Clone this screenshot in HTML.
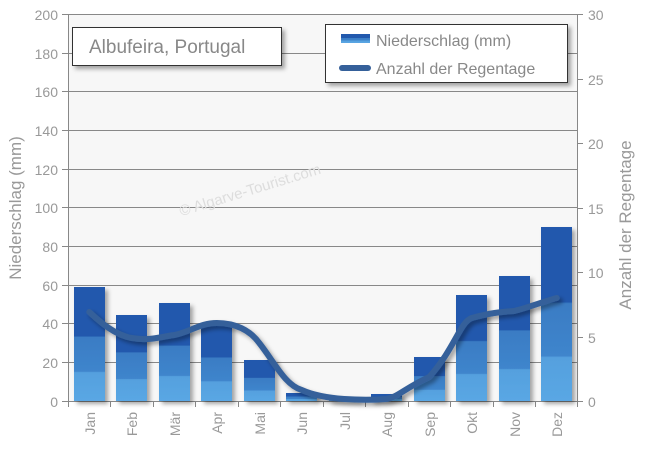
<!DOCTYPE html>
<html><head><style>
body{margin:0;background:#fff;}
svg{display:block;font-family:"Liberation Sans",sans-serif;}
</style></head><body>
<svg width="650" height="450" viewBox="0 0 650 450">
<defs>
<linearGradient id="bg" x1="0" y1="0" x2="0" y2="1">
<stop offset="0" stop-color="#2259ad"/><stop offset="0.43" stop-color="#2259ad"/>
<stop offset="0.44" stop-color="#3a7cc4"/><stop offset="0.74" stop-color="#3f85cc"/>
<stop offset="0.75" stop-color="#55a0de"/><stop offset="1" stop-color="#5aa7e4"/>
</linearGradient>
<filter id="sh" x="-20%" y="-20%" width="150%" height="150%"><feDropShadow dx="3" dy="3" stdDeviation="2" flood-color="#000" flood-opacity="0.35"/></filter>
</defs>
<rect x="68" y="14" width="510" height="387" fill="#f7f7f7"/>
<g stroke="#888" stroke-width="1">
<line x1="68" y1="14.5" x2="578" y2="14.5"/>
<line x1="68" y1="53.5" x2="578" y2="53.5"/>
<line x1="68" y1="91.5" x2="578" y2="91.5"/>
<line x1="68" y1="130.5" x2="578" y2="130.5"/>
<line x1="68" y1="169.5" x2="578" y2="169.5"/>
<line x1="68" y1="207.5" x2="578" y2="207.5"/>
<line x1="68" y1="246.5" x2="578" y2="246.5"/>
<line x1="68" y1="285.5" x2="578" y2="285.5"/>
<line x1="68" y1="323.5" x2="578" y2="323.5"/>
<line x1="68" y1="362.5" x2="578" y2="362.5"/>
<line x1="62" y1="401.5" x2="583" y2="401.5"/>
<line x1="68.5" y1="14" x2="68.5" y2="401"/>
<line x1="577.5" y1="14" x2="577.5" y2="407"/>
<line x1="62" y1="14.5" x2="68" y2="14.5"/><line x1="62" y1="53.5" x2="68" y2="53.5"/><line x1="62" y1="91.5" x2="68" y2="91.5"/><line x1="62" y1="130.5" x2="68" y2="130.5"/><line x1="62" y1="169.5" x2="68" y2="169.5"/><line x1="62" y1="207.5" x2="68" y2="207.5"/><line x1="62" y1="246.5" x2="68" y2="246.5"/><line x1="62" y1="285.5" x2="68" y2="285.5"/><line x1="62" y1="323.5" x2="68" y2="323.5"/><line x1="62" y1="362.5" x2="68" y2="362.5"/>
<line x1="578" y1="14.5" x2="583" y2="14.5"/><line x1="578" y1="79.5" x2="583" y2="79.5"/><line x1="578" y1="143.5" x2="583" y2="143.5"/><line x1="578" y1="208.5" x2="583" y2="208.5"/><line x1="578" y1="272.5" x2="583" y2="272.5"/><line x1="578" y1="337.5" x2="583" y2="337.5"/>
<line x1="68.5" y1="401" x2="68.5" y2="407"/><line x1="110.5" y1="401" x2="110.5" y2="407"/><line x1="153.5" y1="401" x2="153.5" y2="407"/><line x1="195.5" y1="401" x2="195.5" y2="407"/><line x1="238.5" y1="401" x2="238.5" y2="407"/><line x1="280.5" y1="401" x2="280.5" y2="407"/><line x1="323.5" y1="401" x2="323.5" y2="407"/><line x1="365.5" y1="401" x2="365.5" y2="407"/><line x1="408.5" y1="401" x2="408.5" y2="407"/><line x1="450.5" y1="401" x2="450.5" y2="407"/><line x1="493.5" y1="401" x2="493.5" y2="407"/><line x1="535.5" y1="401" x2="535.5" y2="407"/>
</g>
<text x="250" y="195" fill="#ddd" font-size="15" transform="rotate(-17 250 190)" text-anchor="middle">© Algarve-Tourist.com</text>
<g fill="url(#bg)" filter="url(#sh)">
<rect x="74" y="287" width="31" height="114"/>
<rect x="116" y="315" width="31" height="86"/>
<rect x="159" y="303" width="31" height="98"/>
<rect x="201" y="324" width="31" height="77"/>
<rect x="244" y="360" width="31" height="41"/>
<rect x="286" y="393" width="31" height="8"/>
<rect x="329" y="398" width="31" height="3"/>
<rect x="371" y="394" width="31" height="7"/>
<rect x="414" y="357" width="31" height="44"/>
<rect x="456" y="295" width="31" height="106"/>
<rect x="499" y="276" width="31" height="125"/>
<rect x="541" y="227" width="31" height="174"/>
</g>
<path filter="url(#sh)" d="M89.25,312 C96,318 113,335 131.75,338 C150,341 160,337 174.25,335 C190,332 200,323 216.75,323 C235,323 250,330 259.25,343 C275,363 285,385 301.75,390 C315,396 330,398 344.25,399 C360,400 372,400 386.75,399 C398,397 405,388 429.25,377 C455,348 460,322 471.75,318 C490,313 500,312 514.25,311 C530,307 545,301 556.75,298" fill="none" stroke="#35609a" stroke-width="6" stroke-linecap="round"/>
<g fill="#999" font-size="14" text-anchor="end">
<text x="58" y="20">200</text><text x="58" y="59">180</text><text x="58" y="97">160</text><text x="58" y="136">140</text><text x="58" y="175">120</text><text x="58" y="213">100</text><text x="58" y="252">80</text><text x="58" y="291">60</text><text x="58" y="329">40</text><text x="58" y="368">20</text><text x="58" y="407">0</text>
</g>
<g fill="#999" font-size="14">
<text x="588" y="20">30</text><text x="588" y="85">25</text><text x="588" y="149">20</text><text x="588" y="214">15</text><text x="588" y="278">10</text><text x="588" y="343">5</text><text x="588" y="407">0</text>
</g>
<g fill="#999" font-size="14" text-anchor="end">
<text transform="translate(95,412) rotate(-90)">Jan</text>
<text transform="translate(137,412) rotate(-90)">Feb</text>
<text transform="translate(180,412) rotate(-90)">Mär</text>
<text transform="translate(222,412) rotate(-90)">Apr</text>
<text transform="translate(265,412) rotate(-90)">Mai</text>
<text transform="translate(307,412) rotate(-90)">Jun</text>
<text transform="translate(350,412) rotate(-90)">Jul</text>
<text transform="translate(392,412) rotate(-90)">Aug</text>
<text transform="translate(435,412) rotate(-90)">Sep</text>
<text transform="translate(477,412) rotate(-90)">Okt</text>
<text transform="translate(520,412) rotate(-90)">Nov</text>
<text transform="translate(562,412) rotate(-90)">Dez</text>
</g>
<text transform="translate(21,208) rotate(-90)" fill="#999" font-size="17" text-anchor="middle">Niederschlag (mm)</text>
<text transform="translate(631,225) rotate(-90)" fill="#999" font-size="17" text-anchor="middle">Anzahl der Regentage</text>
<rect x="72.5" y="27.5" width="209" height="38" fill="#fff" stroke="#333" filter="url(#sh)"/>
<text x="89" y="53" fill="#888" font-size="19">Albufeira, Portugal</text>
<rect x="325.5" y="24.5" width="242" height="58" fill="#fff" stroke="#333" filter="url(#sh)"/>
<rect x="341" y="34" width="29" height="9" fill="url(#bg)"/>
<line x1="342" y1="68" x2="368" y2="68" stroke="#35609a" stroke-width="6" stroke-linecap="round"/>
<text x="376" y="46" fill="#888" font-size="16">Niederschlag (mm)</text>
<text x="376" y="74" fill="#888" font-size="16">Anzahl der Regentage</text>
</svg>
</body></html>
